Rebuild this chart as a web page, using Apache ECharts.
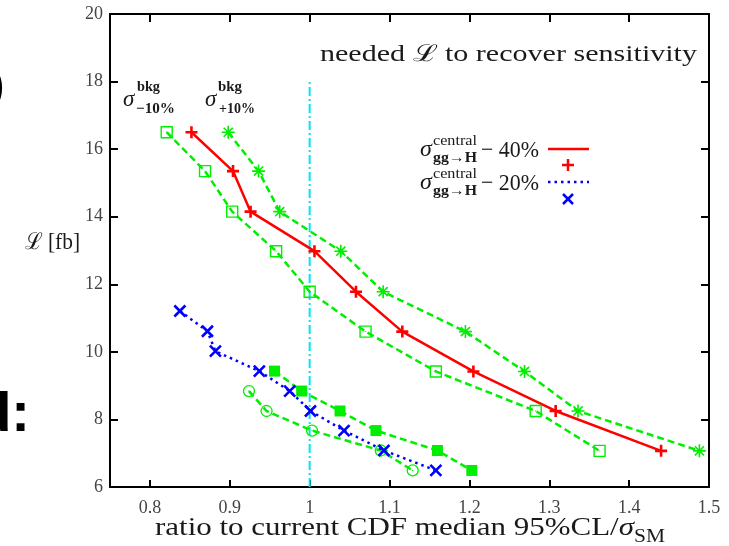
<!DOCTYPE html>
<html>
<head>
<meta charset="utf-8">
<script src="https://cdn.jsdelivr.net/npm/echarts@6/dist/echarts.min.js"></script>
<style>html,body{margin:0;padding:0;background:#fff;}#c{width:729px;height:546px;}</style>
</head>
<body>
<div id="c"></div>
<script>
// ---- data ----
const xTicks = [0.8, 0.9, 1.0, 1.1, 1.2, 1.3, 1.4, 1.5];
const yTicks = [6, 8, 10, 12, 14, 16, 18, 20];
const lumi40 = [16.5, 15.35, 14.15, 12.98, 11.78, 10.6, 9.42, 8.25, 7.07];
const lumi20 = [11.21, 10.61, 10.02, 9.43, 8.84, 8.25, 7.67, 7.08, 6.49];
const ratio40 = [0.852, 0.904, 0.926, 1.006, 1.058, 1.116, 1.205, 1.308, 1.440];
const ratio40bkgPlus = [0.898, 0.936, 0.9625, 1.039, 1.092, 1.195, 1.269, 1.336, 1.488];
const ratio40bkgMinus = [0.821, 0.869, 0.903, 0.958, 1.0, 1.07, 1.158, 1.283, 1.363];
const ratio20 = [0.8375, 0.872, 0.882, 0.937, 0.975, 1.001, 1.043, 1.093, 1.158];
const ratio20bkgPlus = [0.956, 0.99, 1.038, 1.083, 1.160, 1.203];      // last 6 lumi20 values
const ratio20bkgMinus = [0.924, 0.946, 1.003, 1.089, 1.129];           // last 5 lumi20 values
const refRatio = 1.0;
const refLine = [6, 18];

const zip = (xs, ys) => xs.map((x, i) => [x, ys[i]]);
const tail = (arr, n) => arr.slice(arr.length - n);

const SERIF = "'Liberation Serif','DejaVu Serif',serif";
const SANS = "'Liberation Sans',Arial,sans-serif";
const GREEN = '#00ee00', RED = '#ff0000', BLUE = '#0000ff', CYAN = '#00e5f0';

const PLUS = 'path://M5,0L5,10M0,5L10,5';
const STAR = 'path://M5,0L5,10M0,5L10,5M1.5,1.5L8.5,8.5M1.5,8.5L8.5,1.5';
const CROSS = 'path://M0,0L10,10M0,10L10,0';
const BOX = 'path://M0,0L10,0L10,10L0,10ZM5,4.6L5,5.4';
const RING = 'path://M10,5A5,5,0,1,1,0,5A5,5,0,1,1,10,5ZM5,4.6L5,5.4';

const cvs = document.createElement('canvas').getContext('2d');
function fontStr(size, opt) { return (opt.style || 'normal') + ' ' + (opt.weight || 'normal') + ' ' + size + 'px ' + (opt.family || SERIF); }
function tw(t, size, opt) { cvs.font = fontStr(size, opt || {}); return cvs.measureText(t).width; }

const chart = echarts.init(document.getElementById('c'), null, {renderer: 'canvas'});

const axisLineStyle = {color: '#000', width: 2};
function lineSeries(data, color, type, symbol, size, bw, fill) {
  return {
    type: 'line', data: data, symbol: symbol, symbolSize: size, showSymbol: true,
    symbolKeepAspect: true, animation: false, silent: true, z: 3,
    lineStyle: {color: color, width: 2.5, type: type},
    itemStyle: {color: fill || 'rgba(0,0,0,0)', borderColor: color, borderWidth: bw},
    emphasis: {disabled: true}
  };
}

// graphic texts
const g = [];
function txt(x, y, text, size, opt) {
  opt = opt || {};
  let sx = 1;
  if (opt.width) sx = opt.width / tw(text, size, opt);
  g.push({type: 'text', x: x, y: y, scaleX: sx, silent: true, z: 10, style: {
    text: text, fill: opt.color || '#1a1a1a', font: fontStr(size, opt),
    textAlign: opt.align || 'left', textVerticalAlign: opt.va || 'middle'
  }});
}
function seg(x1, y1, x2, y2, color, w, dash) {
  g.push({type: 'line', silent: true, z: 10, shape: {x1: x1, y1: y1, x2: x2, y2: y2},
    style: {stroke: color, lineWidth: w, lineDash: dash || null}});
}
// title
txt(320, 55, 'needed \u2112 to recover sensitivity', 23, {width: 377});
// y label
txt(25, 243, '\u2112 [fb]', 23, {width: 55});
// x label with subscript
(function () {
  const main = 'ratio to current CDF median 95%CL/';
  const w1 = tw(main, 26, {}), w2 = tw('\u03c3', 26, {style: 'italic'}), w3 = tw('SM', 18, {});
  const s = 510 / (w1 + w2 + w3);
  let x0 = 155;
  txt(x0, 528, main, 26, {width: w1 * s});
  x0 += w1 * s;
  txt(x0, 528, '\u03c3', 26, {style: 'italic', width: w2 * s});
  x0 += w2 * s;
  txt(x0, 537, 'SM', 18, {width: w3 * s});
})();
// bkg labels
txt(123, 100, '\u03c3', 23, {style: 'italic'});
txt(137, 87, 'bkg', 15, {weight: 'bold', width: 23});
txt(136, 109, '\u221210%', 15, {weight: 'bold', width: 39});
txt(205, 100, '\u03c3', 23, {style: 'italic'});
txt(218, 87, 'bkg', 15, {weight: 'bold', width: 24});
txt(219, 109, '+10%', 15, {weight: 'bold', width: 36});
// legend
[[150, '40%'], [183, '20%']].forEach(function (r) {
  const y = r[0];
  txt(420, y, '\u03c3', 24, {style: 'italic'});
  txt(433, y - 9, 'central', 15, {width: 44});
  txt(433, y + 8, 'gg\u2192H', 15, {weight: 'bold', width: 44});
  txt(481, y + 1, '\u2212 ' + r[1], 24, {width: 58});
});
seg(548, 149, 589, 149, RED, 2.5);
seg(562, 165, 574, 165, RED, 2.5);
seg(568, 159, 568, 171, RED, 2.5);
seg(548, 182, 589, 182, BLUE, 2.5, [2.5, 4]);
seg(563, 194, 573, 204, BLUE, 2.5);
seg(563, 204, 573, 194, BLUE, 2.5);
// cut-off slide fragments on the left
txt(4, 88, ')', 40, {family: SANS, weight: 'bold', align: 'right', color: '#000'});
txt(30, 416, 'd:', 56, {family: SANS, weight: 'bold', align: 'right', color: '#000'});

const xCommon = {type: 'value', min: 0.75, max: 1.5, axisLine: {show: true, onZero: false, lineStyle: axisLineStyle},
  splitLine: {show: false}};
const yCommon = {type: 'value', min: 6, max: 20, interval: 2, axisLine: {show: true, onZero: false, lineStyle: axisLineStyle},
  splitLine: {show: false}};

chart.setOption({
  animation: false,
  backgroundColor: '#fff',
  grid: {left: 110, right: 20, top: 14, bottom: 59, containLabel: false},
  xAxis: [
    Object.assign({}, xCommon, {position: 'bottom',
      axisTick: {inside: true, length: 7, lineStyle: {color: '#000', width: 2}, customValues: xTicks},
      axisLabel: {customValues: xTicks, margin: 12, color: '#444', fontFamily: SERIF, fontSize: 18,
        formatter: v => String(+(+v).toFixed(2))}}),
    Object.assign({}, xCommon, {position: 'top',
      axisTick: {inside: true, length: 8, lineStyle: {color: '#000', width: 2}, customValues: xTicks},
      axisLabel: {show: false}})
  ],
  yAxis: [
    Object.assign({}, yCommon, {position: 'left',
      axisTick: {inside: true, length: 8, lineStyle: {color: '#000', width: 2}, customValues: yTicks},
      axisLabel: {customValues: yTicks, margin: 7, color: '#444', fontFamily: SERIF, fontSize: 18, formatter: v => String(v)}}),
    Object.assign({}, yCommon, {position: 'right',
      axisTick: {inside: true, length: 8, lineStyle: {color: '#000', width: 2}, customValues: yTicks},
      axisLabel: {show: false}})
  ],
  series: [
    lineSeries(zip(ratio40bkgMinus, lumi40), GREEN, [7, 4], BOX, 11, 1.4),
    lineSeries(zip(ratio40bkgPlus, lumi40), GREEN, [7, 4], STAR, 13, 1.6),
    lineSeries(zip(ratio20bkgPlus, tail(lumi20, 6)), GREEN, [7, 4], 'rect', 11, 0, GREEN),
    lineSeries(zip(ratio20bkgMinus, tail(lumi20, 5)), GREEN, [7, 4], RING, 11, 1.3),
    lineSeries(zip(ratio40, lumi40), RED, 'solid', PLUS, 12, 2.6),
    lineSeries(zip(ratio20, lumi20), BLUE, [2.5, 4], CROSS, 11, 2.6),
    {type: 'line', data: refLine.map(y => [refRatio, y]), symbol: 'none', silent: true, z: 2,
      lineStyle: {color: CYAN, width: 2, type: [9, 3, 2, 3]}}
  ],
  graphic: g
});
</script>
</body>
</html>
